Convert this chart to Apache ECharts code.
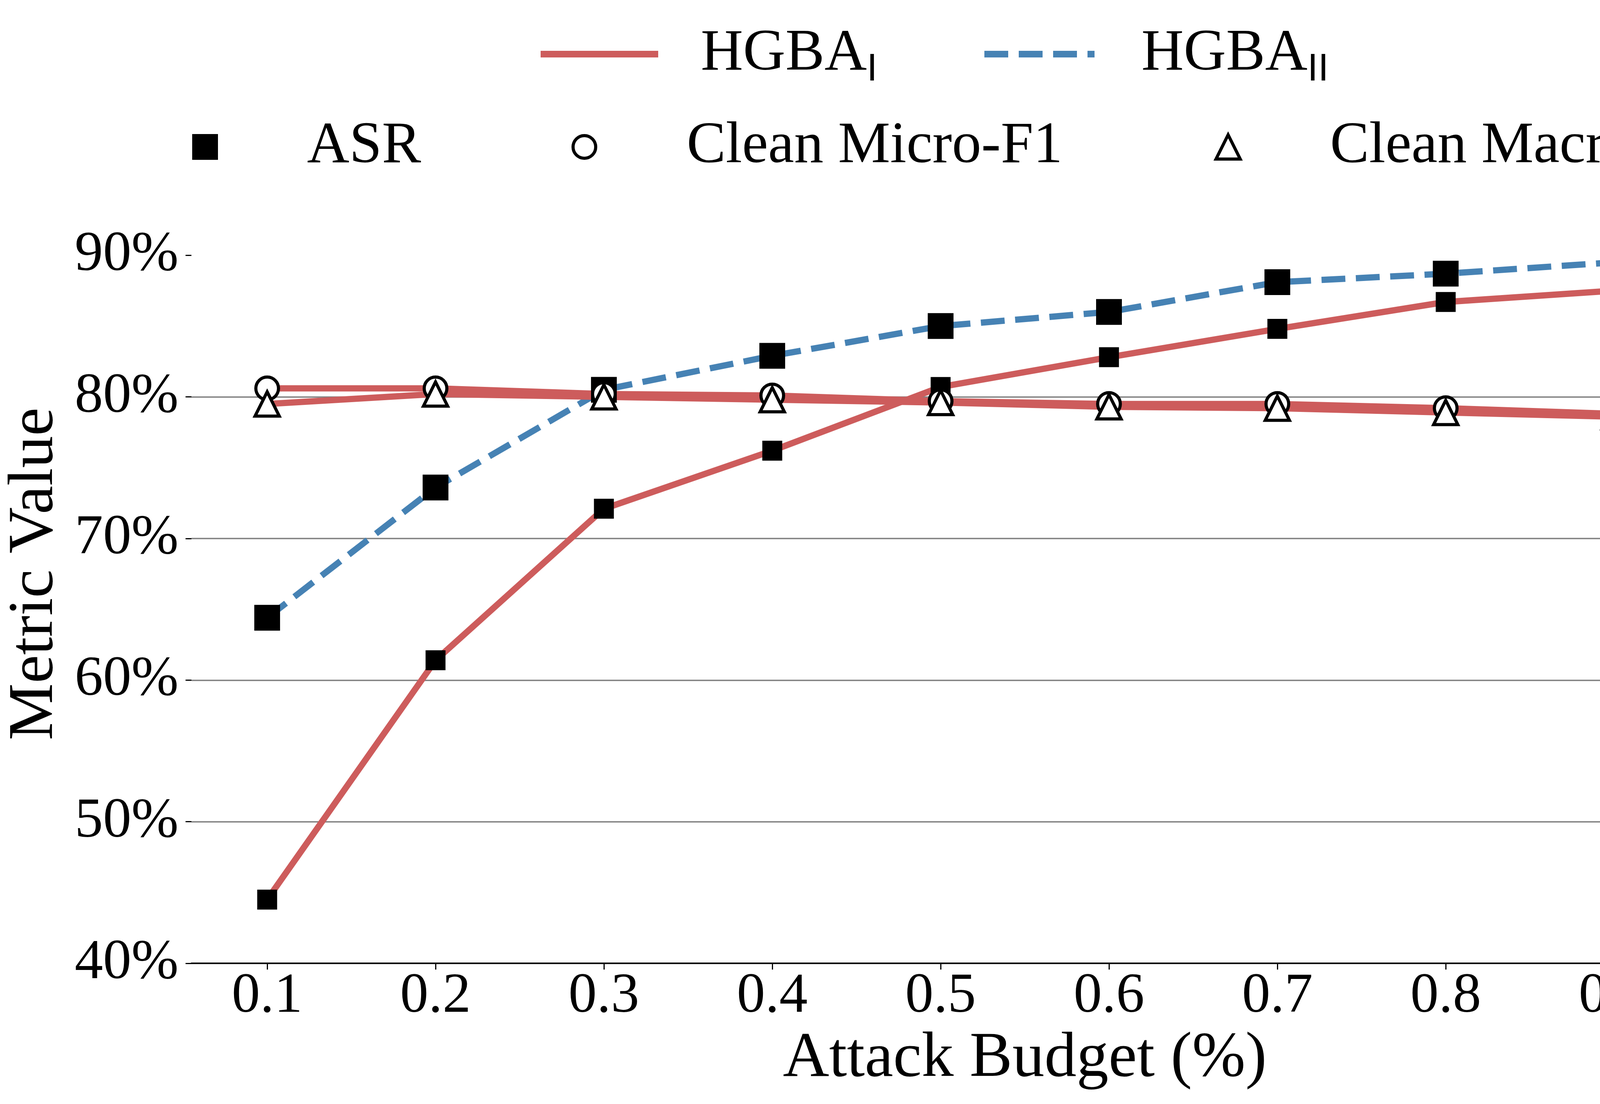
<!DOCTYPE html>
<html><head><meta charset="utf-8">
<script src="https://cdn.jsdelivr.net/npm/echarts@6/dist/echarts.min.js"></script>
<style>html,body{margin:0;padding:0;background:#fff}#c{width:4788px;height:2825px}</style>
</head><body><div id="c"></div>
<script>
// ---- data ----
const budgets = [0.1, 0.2, 0.3, 0.4, 0.5, 0.6, 0.7, 0.8, 0.9, 1.0];
const asrHGBA1 = [44.5, 61.4, 72.1, 76.2, 80.7, 82.8, 84.8, 86.7, 87.5, 88.0];
const asrHGBA2 = [64.4, 73.6, 80.5, 82.9, 85.0, 86.0, 88.1, 88.7, 89.5, 90.5];
const cleanMicroF1 = [80.6, 80.6, 80.2, 80.1, 79.7, 79.5, 79.5, 79.2, 78.8, 78.7];
const cleanMacroF1 = [79.5, 80.2, 80.0, 79.8, 79.6, 79.3, 79.2, 78.9, 78.6, 78.4];
const yTicks = [40, 50, 60, 70, 80, 90];

const RED = '#CD5C5C';
const BLUE = '#4682B4';
const FONT = 'Liberation Serif';
const pairs = arr => budgets.map((b, i) => [b, arr[i]]);

function legendText(pad) {
  return {
    fontFamily: FONT, fontSize: 150, lineHeight: 150, color: '#000',
    padding: [0, 0, 0, pad],
    rich: {
      a: { fontFamily: FONT, fontSize: 150, lineHeight: 150, color: '#000' },
      b: { fontFamily: 'Liberation Sans', fontSize: 98, height: 70, lineHeight: 70, verticalAlign: 'bottom', color: '#000' }
    }
  };
}
const legBase = { orient: 'horizontal', padding: 0, selectedMode: false };

const chart = echarts.init(document.getElementById('c'), null, { renderer: 'canvas' });
chart.setOption({
  animation: false,
  backgroundColor: '#fff',
  textStyle: { fontFamily: FONT },
  grid: { left: 484, right: 31, top: 472, bottom: 360, containLabel: false },
  legend: [
    Object.assign({}, legBase, {
      left: 1384, top: 63.5, itemWidth: 301, itemHeight: 17,
      data: [{ name: 'HGBA_I', icon: 'rect', itemStyle: { color: RED, borderWidth: 0 } }],
      formatter: () => '{a|HGBA}{b|I}', textStyle: legendText(104)
    }),
    Object.assign({}, legBase, {
      left: 2520, top: 63.5, itemWidth: 282, itemHeight: 17,
      data: [{ name: 'HGBA_II', icon: 'path://M0,0h61v17h-61z M88,0h61v17h-61z M176,0h61v17h-61z M264,0h18v17h-18z', itemStyle: { color: BLUE, borderWidth: 0 } }],
      formatter: () => '{a|HGBA}{b|II}', textStyle: legendText(115)
    }),
    Object.assign({}, legBase, {
      left: 492, top: 301, itemWidth: 66, itemHeight: 66,
      data: [{ name: 'ASR', icon: 'rect', itemStyle: { color: '#000', borderWidth: 0 } }],
      textStyle: legendText(223)
    }),
    Object.assign({}, legBase, {
      left: 1463, top: 301, itemWidth: 58, itemHeight: 58,
      data: [{ name: 'Clean Micro-F1', icon: 'circle', itemStyle: { color: '#fff', borderColor: '#000', borderWidth: 8 } }],
      textStyle: legendText(228)
    }),
    Object.assign({}, legBase, {
      left: 3109, top: 301, itemWidth: 62, itemHeight: 62,
      data: [{ name: 'Clean Macro-F1', icon: 'triangle', itemStyle: { color: '#fff', borderColor: '#000', borderWidth: 8 } }],
      textStyle: legendText(225)
    })
  ],
  xAxis: {
    type: 'value', min: 0.055, max: 1.045,
    name: 'Attack Budget (%)', nameLocation: 'middle', nameGap: 159,
    nameTextStyle: { fontFamily: FONT, fontSize: 164, lineHeight: 164, color: '#000' },
    axisLine: { show: true, onZero: false, lineStyle: { color: '#000', width: 4 } },
    axisTick: { show: true, length: 16, customValues: budgets, lineStyle: { color: '#000', width: 3 } },
    axisLabel: { customValues: budgets, formatter: v => v.toFixed(1), fontFamily: FONT, fontSize: 145, lineHeight: 145, color: '#000', margin: 13 },
    splitLine: { show: false }
  },
  yAxis: {
    type: 'value', min: 40, max: 95, interval: 10,
    name: 'Metric Value', nameLocation: 'middle', nameGap: 318,
    nameTextStyle: { fontFamily: FONT, fontSize: 164, lineHeight: 164, color: '#000' },
    axisLine: { show: false },
    axisTick: { show: true, length: 15, customValues: yTicks, lineStyle: { color: '#000', width: 3 } },
    axisLabel: { customValues: yTicks, formatter: v => v + '%', fontFamily: FONT, fontSize: 145, lineHeight: 145, color: '#000', margin: 33 },
    splitLine: { show: true, showMaxLine: false, showMinLine: false, lineStyle: { color: '#808080', width: 3.5 } }
  },
  series: [
    { name: 'HGBA_I · ASR', type: 'line', data: pairs(asrHGBA1), symbol: 'rect', symbolSize: 51,
      itemStyle: { color: '#000' }, lineStyle: { color: RED, width: 16, join: 'round' }, emphasis: { disabled: true } },
    { name: 'HGBA_II · ASR', type: 'line', data: pairs(asrHGBA2), symbol: 'rect', symbolSize: 66,
      itemStyle: { color: '#000' }, lineStyle: { color: BLUE, width: 16, type: [61, 27], cap: 'butt' }, emphasis: { disabled: true } },
    { name: 'HGBA_I · Clean Micro-F1', type: 'line', data: pairs(cleanMicroF1), symbol: 'circle', symbolSize: 58,
      itemStyle: { color: '#fff', borderColor: '#000', borderWidth: 8 }, lineStyle: { color: RED, width: 16, join: 'round' }, emphasis: { disabled: true } },
    { name: 'HGBA_I · Clean Macro-F1', type: 'line', data: pairs(cleanMacroF1), symbol: 'triangle', symbolSize: 62,
      itemStyle: { color: '#fff', borderColor: '#000', borderWidth: 8 }, lineStyle: { color: RED, width: 16, join: 'round' }, emphasis: { disabled: true } },
    // legend-only entries
    { name: 'HGBA_I', type: 'line', data: [] },
    { name: 'HGBA_II', type: 'line', data: [] },
    { name: 'ASR', type: 'line', data: [] },
    { name: 'Clean Micro-F1', type: 'line', data: [] },
    { name: 'Clean Macro-F1', type: 'line', data: [] }
  ]
});
</script>
</body></html>
